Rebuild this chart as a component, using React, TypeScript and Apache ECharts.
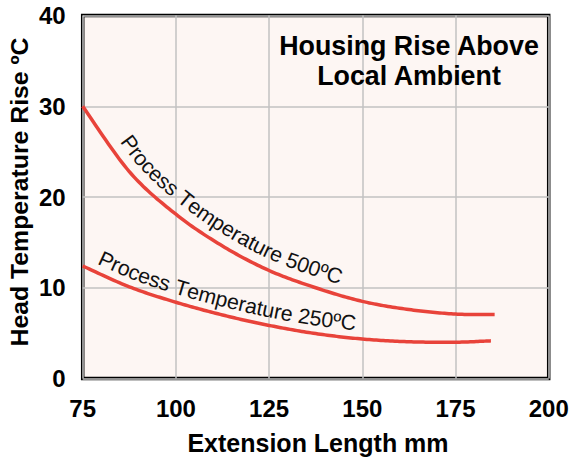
import React, { useEffect, useRef } from "react";
import * as echarts from "echarts";

const xTicks = [75, 200, 25]; // min, max, interval
const yTicks = [0, 40, 10];
const ext500 = [75, 87.5, 100, 112.5, 125, 137.5, 150, 162.5, 175, 185.5];
const rise500 = [30, 22.8, 18.1, 14.6, 11.9, 10.0, 8.5, 7.6, 7.1, 7.05];
const ext250 = [75, 87.5, 100, 112.5, 125, 137.5, 150, 162.5, 175, 184.5];
const rise250 = [12.4, 10.1, 8.4, 7.0, 5.85, 4.95, 4.35, 4.05, 4.0, 4.15];
const label500 = "Process Temperature 500ºC";
const label250 = "Process Temperature 250ºC";
const titleLines = ["Housing Rise Above", "Local Ambient"];
const xName = "Extension Length mm";
const yName = "Head Temperature Rise ºC";

const FONT = "Liberation Sans";
const RED = "#e8433a";

// Catmull-Rom sampling through pixel points
function spline(pts: number[][]): number[][] {
  const n = pts.length;
  const out: number[][] = [];
  for (let i = 0; i < n - 1; i++) {
    const p0 = pts[Math.max(0, i - 1)], p1 = pts[i], p2 = pts[i + 1], p3 = pts[Math.min(n - 1, i + 2)];
    for (let k = 0; k < 20; k++) {
      const t = k / 20, t2 = t * t, t3 = t2 * t;
      const f = (a: number, b: number, c: number, d: number) =>
        0.5 * (2 * b + (-a + c) * t + (2 * a - 5 * b + 4 * c - d) * t2 + (-a + 3 * b - 3 * c + d) * t3);
      out.push([f(p0[0], p1[0], p2[0], p3[0]), f(p0[1], p1[1], p2[1], p3[1])]);
    }
  }
  out.push(pts[n - 1]);
  return out;
}

function curveSeries(xs: number[], ys: number[]) {
  return {
    type: "custom",
    coordinateSystem: "cartesian2d",
    data: xs.map((x, i) => [x, ys[i]]),
    encode: { x: 0, y: 1 },
    z: 5,
    renderItem: (params: any, api: any) => {
      if (params.dataIndex !== 0) return null;
      const pts = xs.map((x, i) => api.coord([x, ys[i]]));
      return {
        type: "polyline",
        shape: { points: spline(pts) },
        style: { stroke: RED, lineWidth: 3.5, fill: null, lineJoin: "round", lineCap: "butt" },
      };
    },
  };
}

function curveLabel(
  chart: any,
  xs: number[],
  ys: number[],
  text: string,
  startPx: number,
  gap: number,
  fontSize: number
) {
  const pts = xs.map((x, i) => chart.convertToPixel({ gridIndex: 0 }, [x, ys[i]]) as number[]);
  const samples = spline(pts);
  const off = samples.map((p, i) => {
    const a = samples[Math.max(0, i - 1)], b = samples[Math.min(samples.length - 1, i + 1)];
    let dx = b[0] - a[0], dy = b[1] - a[1];
    const L = Math.hypot(dx, dy) || 1;
    dx /= L; dy /= L;
    return [p[0] + dy * gap, p[1] - dx * gap];
  });
  const cum = [0];
  for (let i = 1; i < off.length; i++) cum.push(cum[i - 1] + Math.hypot(off[i][0] - off[i - 1][0], off[i][1] - off[i - 1][1]));
  const at = (s: number) => {
    let i = 1;
    while (i < cum.length - 1 && cum[i] < s) i++;
    const a = off[i - 1], b = off[i];
    const seg = cum[i] - cum[i - 1] || 1;
    const t = (s - cum[i - 1]) / seg;
    return { x: a[0] + (b[0] - a[0]) * t, y: a[1] + (b[1] - a[1]) * t, ang: Math.atan2(b[1] - a[1], b[0] - a[0]) };
  };
  let si = 0;
  while (si < off.length - 1 && off[si][0] < startPx) si++;
  let s = cum[si];
  const ctx = document.createElement("canvas").getContext("2d")!;
  ctx.font = `${fontSize}px "${FONT}"`;
  const els: any[] = [];
  for (const ch of text) {
    const w = ctx.measureText(ch).width;
    const p = at(s + w / 2);
    if (ch !== " ") {
      els.push({
        type: "text",
        x: p.x,
        y: p.y,
        rotation: -p.ang,
        silent: true,
        z: 100,
        style: {
          text: ch,
          fontSize,
          fontFamily: FONT,
          fill: "#111",
          align: "center",
          verticalAlign: "bottom",
          textAlign: "center",
          textVerticalAlign: "bottom",
        },
      });
    }
    s += w;
  }
  return els;
}

export default function App() {
  const ref = useRef<HTMLDivElement>(null);
  useEffect(() => {
    const chart = echarts.init(ref.current!, null, { renderer: "svg" });
    const option: any = {
      animation: false,
      grid: {
        left: 82.7,
        top: 15.5,
        width: 466,
        height: 363,
        show: true,
        backgroundColor: "#fdf6f3",
        borderColor: "#000",
        borderWidth: 3.5,
      },
      xAxis: {
        type: "value",
        min: xTicks[0],
        max: xTicks[1],
        interval: xTicks[2],
        axisLine: { show: false },
        axisTick: { show: false },
        splitLine: { show: true, lineStyle: { color: "#c2c2c2", width: 1.5 } },
        axisLabel: { fontSize: 24, fontWeight: "bold", color: "#000", fontFamily: FONT, margin: 18 },
      },
      yAxis: {
        type: "value",
        min: yTicks[0],
        max: yTicks[1],
        interval: yTicks[2],
        axisLine: { show: false },
        axisTick: { show: false },
        splitLine: { show: true, lineStyle: { color: "#c2c2c2", width: 1.5 } },
        axisLabel: { fontSize: 24, fontWeight: "bold", color: "#000", fontFamily: FONT, margin: 17 },
      },
      series: [curveSeries(ext500, rise500), curveSeries(ext250, rise250)],
    };
    chart.setOption(option);
    const bold = (text: string, x: number, y: number, size: number, rotation = 0) => ({
      type: "text",
      x,
      y,
      rotation,
      silent: true,
      z: 100,
      style: {
        text,
        fontSize: size,
        fontWeight: "bold",
        fontFamily: FONT,
        fill: "#000",
        align: "center",
        verticalAlign: "middle",
        textAlign: "center",
        textVerticalAlign: "middle",
      },
    });
    const graphics = [
      bold(titleLines[0], 409, 46, 26.8),
      bold(titleLines[1], 409, 76, 26.8),
      bold(xName, 318, 443, 25),
      bold(yName, 19, 192, 24.8, Math.PI / 2),
      ...curveLabel(chart, ext500, rise500, label500, 116, 7, 21.3),
      ...curveLabel(chart, ext250, rise250, label250, 93, 4.5, 21.3),
    ];
    chart.setOption({ graphic: graphics });
    return () => chart.dispose();
  }, []);
  return <div ref={ref} style={{ position: "absolute", left: 0, top: 0, width: 575, height: 458 }} />;
}
